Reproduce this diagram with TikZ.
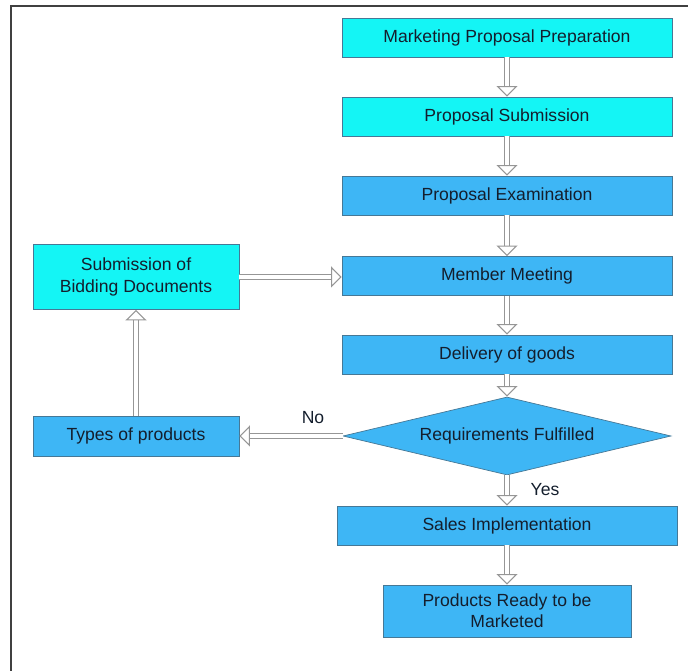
\documentclass[tikz,border=0pt]{standalone}
\usepackage{fontspec}
\setmainfont{Liberation Sans}
\usetikzlibrary{shapes.geometric, arrows.meta}

\definecolor{cyanfill}{RGB}{20,245,245}
\definecolor{bluefill}{RGB}{62,182,245}
\definecolor{boxline}{RGB}{70,120,150}
\definecolor{textc}{RGB}{20,30,45}
\definecolor{arrowgray}{RGB}{150,150,150}

\tikzset{
  box/.style={draw=boxline, fill=bluefill, text=textc, align=center,
    minimum width=6.6cm, minimum height=0.78cm, inner sep=2pt,
    font=\fontsize{10}{12}\selectfont},
  cyanbox/.style={box, fill=cyanfill},
  flow/.style={draw=arrowgray, line width=0.6pt, double=white, double distance=2.4pt,
    -{Triangle[open, length=6pt, width=12pt]}},
  lbl/.style={text=textc, font=\fontsize{10}{12}\selectfont}
}

\begin{document}
\begin{tikzpicture}
    \useasboundingbox (0,0) rectangle (13.76,13.42);

    % Frame
    \draw[line width=1.2pt, black!75] (0.22,0) -- (0.22,13.30) -- (13.76,13.30);

    % Main column
    \node[cyanbox] (prep) at (10.14,12.67) {Marketing Proposal Preparation};
    \node[cyanbox] (submit) at (10.14,11.09) {Proposal Submission};
    \node[box] (exam) at (10.14,9.51) {Proposal Examination};
    \node[box] (meet) at (10.14,7.90) {Member Meeting};
    \node[box] (deliv) at (10.14,6.33) {Delivery of goods};
    \node[diamond, draw=boxline, fill=bluefill, text=textc, inner sep=0pt,
      shape aspect=4.2, minimum width=6.56cm, minimum height=1.56cm,
      font=\fontsize{10}{12}\selectfont] (req) at (10.14,4.70) {Requirements Fulfilled};
    \node[box, minimum width=6.8cm] (sales) at (10.14,2.91) {Sales Implementation};
    \node[box, minimum width=4.96cm, minimum height=1.04cm] (ready) at (10.14,1.20)
      {Products Ready to be\\Marketed};

    % Left column
    \node[cyanbox, minimum width=4.12cm, minimum height=1.3cm] (bid) at (2.72,7.88)
      {Submission of\\Bidding Documents};
    \node[box, minimum width=4.12cm, minimum height=0.8cm] (types) at (2.72,4.70)
      {Types of products};

    % Draw the arrows
    \draw[flow] (prep) -- (submit);
    \draw[flow] (submit) -- (exam);
    \draw[flow] (exam) -- (meet);
    \draw[flow] (meet) -- (deliv);
    \draw[flow] (deliv) -- (req);
    \draw[flow] (req) -- (sales);
    \draw[flow] (sales) -- (ready);
    \draw[flow] (req) -- (types);
    \draw[flow] (types) -- (bid);
    \draw[flow] (bid.east) -- (bid.east -| meet.west);

    % Labels
    \node[lbl] (no) at (6.26,5.06) {No};
    \node[lbl] (yes) at (10.90,3.62) {Yes};
\end{tikzpicture}
\end{document}
